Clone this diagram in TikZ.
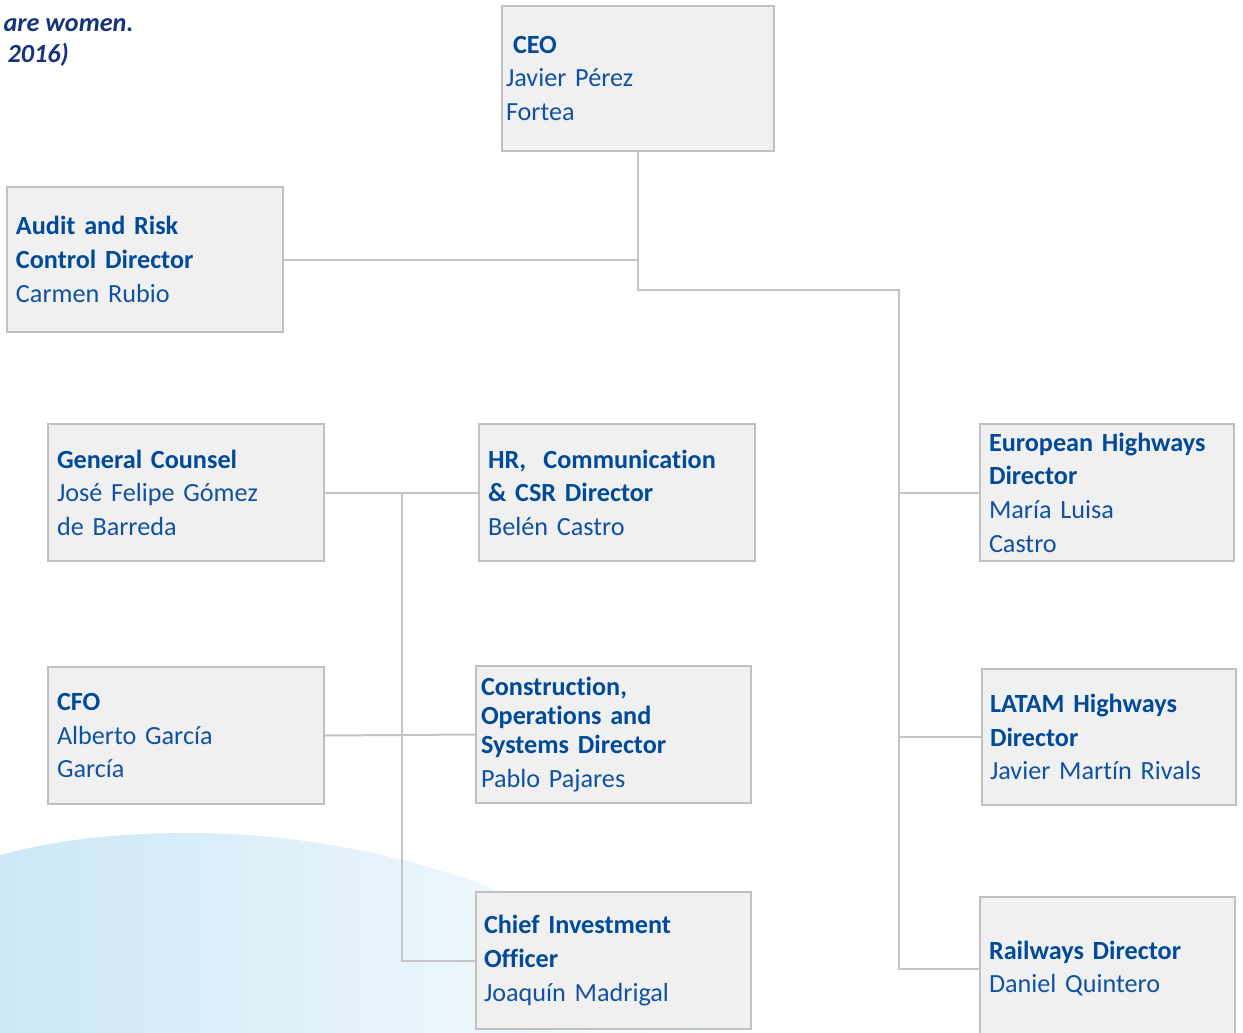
\documentclass[tikz,border=0pt]{standalone}
\usepackage{fontspec}
\setmainfont{Carlito}[Ligatures=NoCommon]
\usepackage{tikz}
\usetikzlibrary{positioning}

\definecolor{boxfill}{RGB}{240,240,240}
\definecolor{boxline}{RGB}{192,192,192}
\definecolor{linkgray}{RGB}{196,196,196}
\definecolor{titleblue}{RGB}{0,74,152}
\definecolor{nameblue}{RGB}{16,82,160}
\definecolor{noteblue}{RGB}{22,52,122}
\definecolor{skyblue}{RGB}{204,231,246}

\begin{document}
\begin{tikzpicture}[x=0.5pt,y=-0.5pt,semithick]
        \tikzstyle{orgbox}=[
            rectangle,
            draw=boxline,
            line width=1pt,
            fill=boxfill,
            align=left,
            inner xsep=4.5pt,
            inner ysep=0pt,
            text=nameblue,
            font=\fontsize{13.1}{16.8}\selectfont
        ]
        \tikzstyle{link}=[
            draw=linkgray,
            line width=1pt
        ]
        \newcommand{\role}[1]{\textcolor{titleblue}{\textbf{#1}}}

        \useasboundingbox (0,0) rectangle (1243,1033);
        \clip (0,0) rectangle (1243,1033);

        % background swoosh
        \shade[left color=skyblue, right color=white, draw=none]
            (0,855) .. controls (60,839) and (120,833) .. (190,833)
            .. controls (300,833) and (420,856) .. (520,900)
            -- (760,1033) -- (0,1033) -- cycle;

        % note at the top left
        \node[anchor=west, align=left, inner sep=0pt, text=noteblue,
              font=\fontsize{13.1}{15.5}\selectfont\bfseries\itshape] (note) at (3,43)
              {are women.\\ \hspace*{2pt}2016)};

        \node[orgbox, inner xsep=2pt, text width=132pt, minimum height=72.5pt] (ceo) at (638,78.5)
            {\hspace*{3.5pt}\role{CEO}\\Javier Pérez\\Fortea};
        \node[orgbox, text width=129pt, minimum height=72.5pt] (audit) at (145,259.5)
            {\role{Audit and Risk}\\\role{Control Director}\\Carmen Rubio};

        \node[orgbox, text width=129pt, minimum height=68.5pt] (counsel) at (186,492.5)
            {\role{General Counsel}\\José Felipe Gómez\\de Barreda};
        \node[orgbox, text width=129pt, minimum height=68.5pt] (hr) at (617,492.5)
            {\role{HR,\ \ Communication}\\\role{\& CSR Director}\\Belén Castro};
        \node[orgbox, text width=118pt, minimum height=68.5pt] (europe) at (1107,492.5)
            {\role{European Highways}\\\role{Director}\\María Luisa\\Castro};

        \node[orgbox, text width=129pt, minimum height=68.5pt] (cfo) at (186,735.5)
            {\role{CFO}\\Alberto García\\García};
        \node[orgbox, inner xsep=2.5pt, text width=132.5pt, minimum height=68.5pt] (construct) at (613.5,734.5)
            {\role{Construction,}\\[-2.3pt]\role{Operations and}\\[-2.3pt]\role{Systems Director}\\Pablo Pajares};
        \node[orgbox, inner xsep=4pt, text width=119pt, minimum height=68pt] (latam) at (1109,737)
            {\role{LATAM Highways}\\\role{Director}\\Javier Martín Rivals};

        \node[orgbox, inner xsep=4pt, text width=129.5pt, minimum height=68.5pt] (cio) at (613.5,960.5)
            {\role{Chief Investment}\\\role{Officer}\\Joaquín Madrigal};
        \node[orgbox, text width=118.5pt, minimum height=71.5pt] (rail) at (1107.5,968.5)
            {\role{Railways Director}\\Daniel Quintero};

        \coordinate (fork) at (638,290);
        \coordinate (spine) at (899,290);
        \coordinate (leftspine) at (402,492.5);

        % right-hand tree
        \draw[link] (ceo.south) -- (fork) -- (spine) |- (rail.west);
        \draw[link] (audit.east) -- (audit.east -| ceo.south);
        \draw[link] (spine |- europe.west) -- (europe.west);
        \draw[link] (spine |- latam.west) -- (latam.west);

        % left-hand tree
        \draw[link] (counsel.east) -- (hr.west);
        \draw[link] (leftspine) |- (cio.west);
        \draw[link] (cfo.east) -- (construct.west);

    \end{tikzpicture}
\end{document}
